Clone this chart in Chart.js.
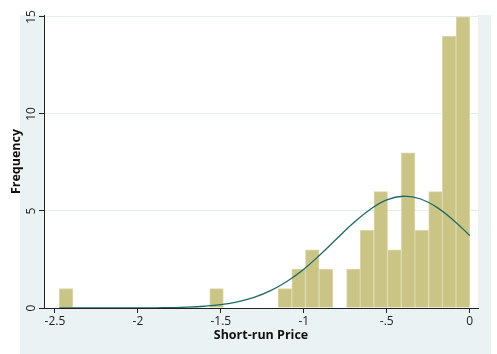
<!DOCTYPE html>
<html>
<head>
<meta charset="utf-8">
<script src="https://cdn.jsdelivr.net/npm/chart.js@4.4.1/dist/chart.umd.min.js"></script>
<style>
  body { margin: 0; background: #fff; }
  #wrap { width: 497px; height: 354px; }
</style>
</head>
<body>
<div id="wrap"><canvas id="hist" width="497" height="354"></canvas></div>
<script>
// histogram bins (centres) and counts
var binCentres = [-2.433, -2.350, -2.268, -2.185, -2.103, -2.021, -1.938, -1.856, -1.773, -1.691,
                  -1.608, -1.526, -1.443, -1.361, -1.279, -1.196, -1.114, -1.031, -0.949, -0.866,
                  -0.784, -0.701, -0.619, -0.536, -0.454, -0.371, -0.289, -0.206, -0.124, -0.041];
var binCounts = [1, 0, 0, 0, 0, 0, 0, 0, 0, 0,
                 0, 1, 0, 0, 0, 0, 1, 2, 3, 2,
                 0, 2, 4, 6, 3, 8, 4, 6, 14, 15];

// normal density overlay, in frequency units
var curveX = [-2.474, -2.2, -2.0, -1.9, -1.8, -1.7, -1.6, -1.5, -1.4, -1.3, -1.2, -1.1,
              -1.0, -0.9, -0.8, -0.7, -0.6, -0.5, -0.4, -0.3, -0.2, -0.1, 0.0];
var curveY = [0.0, 0.001, 0.004, 0.009, 0.021, 0.044, 0.091, 0.175, 0.32, 0.551, 0.897, 1.38,
              2.0, 2.76, 3.58, 4.39, 5.08, 5.57, 5.76, 5.63, 5.2, 4.54, 3.74];

var xTicks = [-2.5, -2, -1.5, -1, -0.5, 0];
var xTickLabels = ['-2.5', '-2', '-1.5', '-1', '-.5', '0'];
var yTicks = [0, 5, 10, 15];

var barData = binCentres.map(function (x, i) { return { x: x, y: binCounts[i] }; });
var curveData = curveX.map(function (x, i) { return { x: x, y: curveY[i] }; });

var axisColor = '#222';
var font = '"Open Sans", Lato, sans-serif';

// light frame around the plot region, white inside
var framePlugin = {
    id: 'frame',
    beforeDraw: function (chart) {
        var ctx = chart.ctx, a = chart.chartArea;
        ctx.save();
        ctx.fillStyle = '#ffffff';
        ctx.fillRect(0, 0, chart.width, chart.height);
        ctx.fillStyle = '#eaf2f3';
        ctx.fillRect(a.left - 24, a.top, (a.right + 13) - (a.left - 24), chart.height - a.top);
        ctx.fillStyle = '#ffffff';
        ctx.fillRect(a.left, a.top, a.right - a.left, a.bottom - a.top);
        ctx.restore();
    }
};

new Chart(document.getElementById('hist'), {
    type: 'bar',
    data: {
        datasets: [
            {
                type: 'line',
                data: curveData,
                borderColor: '#1d6a66',
                borderWidth: 1.3,
                pointRadius: 0,
                tension: 0.4,
                fill: false,
                order: 0
            },
            {
                data: barData,
                backgroundColor: '#cac485',
                borderColor: '#dcd8a9',
                borderWidth: 1,
                barPercentage: 1,
                categoryPercentage: 1,
                order: 1
            }
        ]
    },
    options: {
        responsive: false,
        animation: false,
        layout: { padding: { left: 0, right: 19, top: 15, bottom: 0 } },
        plugins: {
            legend: { display: false },
            tooltip: { enabled: false }
        },
        scales: {
            x: {
                type: 'linear',
                min: -2.566,
                max: 0.05,
                offset: false,
                afterFit: function (s) { s.height = 46; },
                afterBuildTicks: function (s) { s.ticks = xTicks.map(function (v) { return { value: v }; }); },
                grid: { offset: false, drawOnChartArea: false, drawTicks: true, tickLength: 5, tickColor: axisColor },
                border: { display: true, color: axisColor, width: 1 },
                ticks: {
                    autoSkip: false,
                    maxRotation: 0,
                    padding: 1,
                    color: '#222',
                    font: { family: font, size: 12 },
                    callback: function (v) {
                        var i = xTicks.indexOf(v);
                        return i >= 0 ? xTickLabels[i] : '';
                    }
                },
                title: {
                    display: true,
                    text: 'Short-run Price',
                    color: '#111',
                    font: { family: font, size: 12.5, weight: 'bold' },
                    padding: { top: 0, bottom: 11 }
                }
            },
            y: {
                min: 0,
                max: 15.1,
                afterFit: function (s) { s.width = 44; },
                afterBuildTicks: function (s) { s.ticks = yTicks.map(function (v) { return { value: v }; }); },
                grid: { color: '#e4edef', lineWidth: 1, drawTicks: true, tickLength: 5, tickColor: axisColor },
                border: { display: true, color: axisColor, width: 1 },
                ticks: {
                    minRotation: 90,
                    maxRotation: 90,
                    crossAlign: 'center',
                    padding: 1,
                    color: '#222',
                    font: { family: font, size: 12 }
                },
                title: {
                    display: true,
                    text: 'Frequency',
                    color: '#111',
                    font: { family: font, size: 12.5, weight: 'bold' },
                    padding: { top: 9, bottom: 0 }
                }
            }
        }
    },
    plugins: [framePlugin]
});
</script>
</body>
</html>
